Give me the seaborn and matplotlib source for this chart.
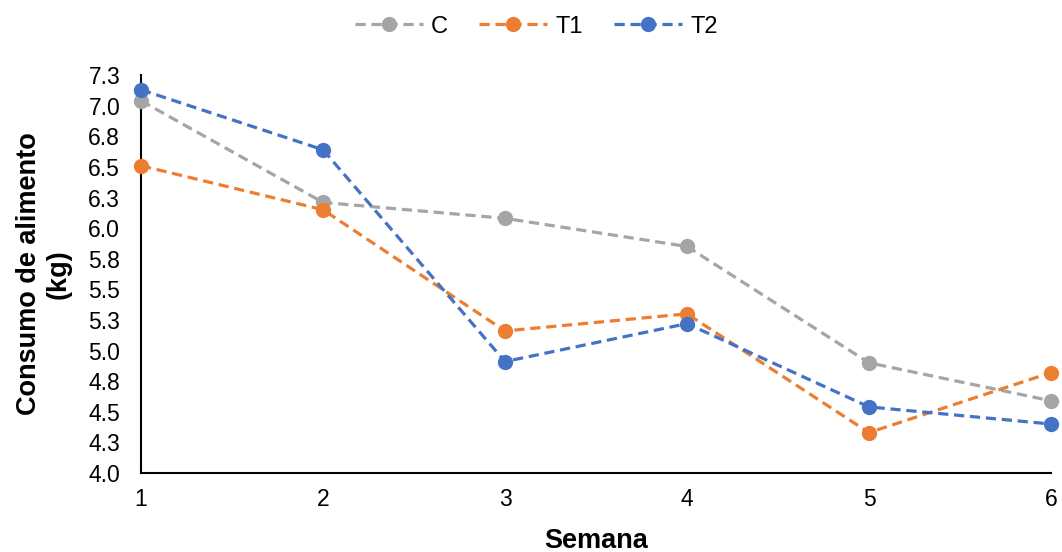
import numpy as np
import pandas as pd
import seaborn as sns
from matplotlib import pyplot as plt

# Data
semanas = [1, 2, 3, 4, 5, 6]
consumo_c = [7.04, 6.21, 6.08, 5.85, 4.90, 4.59]
consumo_t1 = [6.51, 6.15, 5.16, 5.30, 4.33, 4.82]
consumo_t2 = [7.13, 6.64, 4.91, 5.22, 4.54, 4.40]
tratamientos = ["C", "T1", "T2"]
y_ticks = [4.0, 4.25, 4.5, 4.75, 5.0, 5.25, 5.5, 5.75, 6.0, 6.25, 6.5, 6.75, 7.0, 7.25]
y_tick_labels = ["4.0", "4.3", "4.5", "4.8", "5.0", "5.3", "5.5", "5.8",
                 "6.0", "6.3", "6.5", "6.8", "7.0", "7.3"]

df = pd.DataFrame({
    "Semana": semanas * 3,
    "Consumo": consumo_c + consumo_t1 + consumo_t2,
    "Trat": [t for t in tratamientos for _ in semanas],
})

sns.set_style("white")
plt.rcParams["font.family"] = ["Liberation Sans", "DejaVu Sans"]
plt.rcParams["text.color"] = "#000000"
plt.rcParams["axes.labelcolor"] = "#000000"

colors = {"C": "#A5A5A5", "T1": "#ED7D31", "T2": "#4472C4"}

fig = plt.figure(figsize=(10.62, 5.52), dpi=100)
ax = fig.add_axes([0.1328, 0.1431, 0.8568, 0.7209])

sns.lineplot(data=df, x="Semana", y="Consumo", hue="Trat", style="Trat",
             palette=colors, markers=["o", "o", "o"], dashes=[(3.2, 1.8)] * 3,
             linewidth=2.3, markersize=11, markeredgewidth=0, ax=ax, legend=True,
             clip_on=False)

ax.set_xlim(1, 6)
ax.set_ylim(4.0, 7.25)
ax.set_xticks(semanas)
ax.set_yticks(y_ticks)
ax.set_yticklabels(y_tick_labels)
ax.tick_params(axis="both", labelsize=16.5, length=0, colors="#000000")
ax.tick_params(axis="y", pad=15)
ax.tick_params(axis="x", pad=11)

for s in ["top", "right"]:
    ax.spines[s].set_visible(False)
for s in ["left", "bottom"]:
    ax.spines[s].set_color("#000000")
    ax.spines[s].set_linewidth(1.5)
    ax.spines[s].set_zorder(0)

ax.set_xlabel("Semana", fontsize=19.5, fontweight="bold", labelpad=12)
ax.set_ylabel("Consumo de alimento\n(kg)", fontsize=19.5, fontweight="bold", labelpad=12)

handles, labels = ax.get_legend_handles_labels()
ax.get_legend().remove()
fig.legend(handles, labels, loc="upper center", bbox_to_anchor=(0.505, 1.01), ncol=3,
           frameon=False, fontsize=17, handlelength=2.9, columnspacing=1.3, handletextpad=0.35)

fig.savefig("out.png", dpi=100)
